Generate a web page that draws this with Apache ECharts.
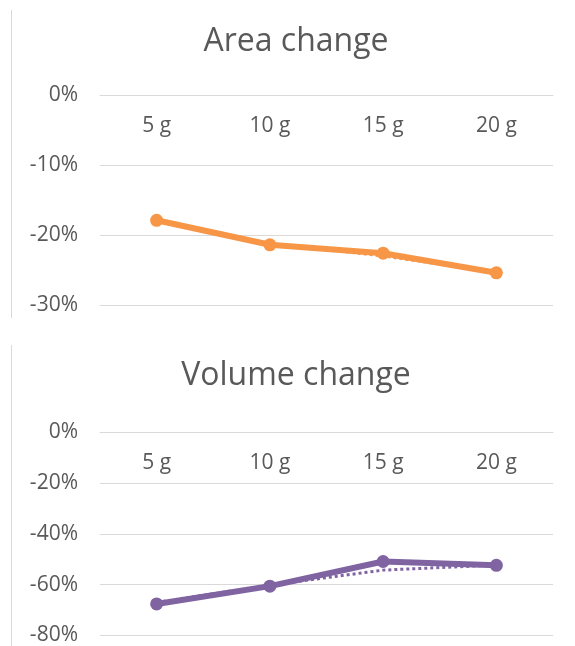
<!DOCTYPE html>
<html>
<head>
<meta charset="utf-8">
<title>Area and volume change</title>
<script src="https://cdn.jsdelivr.net/npm/echarts@6/dist/echarts.min.js"></script>
<style>
  html, body { margin: 0; padding: 0; background: #ffffff; }
  #chart { width: 575px; height: 646px; }
</style>
</head>
<body>
<div id="chart"></div>
<script>
// Sample masses on the category axis
const categories = ['5 g', '10 g', '15 g', '20 g'];

// Percentage change in area, with its dotted trend line
const areaChange = [-17.9, -21.4, -22.6, -25.4];
const areaTrend = [-17.9, -21.2, -23.0, -25.3];

// Percentage change in volume, with its dotted trend line
const volumeChange = [-67.6, -60.6, -50.9, -52.4];
const volumeTrend = [-67.0, -60.2, -54.3, -52.3];

// Value-axis tick marks (percent)
const areaTicks = [0, -10, -20, -30];
const volumeTicks = [0, -20, -40, -60, -80];

const ORANGE = '#F79646';
const PURPLE = '#8064A2';
const TEXT = '#595959';
const GRID = '#d9d9d9';
const FONT = 'Open Sans';

function tickRange(ticks) {
  return {
    min: Math.min(...ticks),
    max: Math.max(...ticks),
    interval: Math.abs(ticks[1] - ticks[0])
  };
}

function valueAxis(gridIndex, ticks) {
  const r = tickRange(ticks);
  return {
    type: 'value',
    gridIndex: gridIndex,
    min: r.min,
    max: r.max,
    interval: r.interval,
    axisLine: { show: false },
    axisTick: { show: false },
    splitLine: { lineStyle: { color: GRID, width: 1 } },
    axisLabel: {
      formatter: '{value}%',
      color: TEXT,
      fontFamily: FONT,
      fontSize: 21,
      margin: 22
    }
  };
}

function categoryAxis(gridIndex) {
  return {
    type: 'category',
    gridIndex: gridIndex,
    data: categories,
    position: 'top',
    boundaryGap: true,
    axisLine: { show: true, lineStyle: { color: GRID, width: 1 } },
    axisTick: { show: false },
    axisLabel: {
      inside: true,
      color: TEXT,
      fontFamily: FONT,
      fontSize: 21,
      margin: 21
    }
  };
}

function trendSeries(idx, data, color) {
  return {
    type: 'line',
    xAxisIndex: idx,
    yAxisIndex: idx,
    data: data,
    symbol: 'none',
    z: 2,
    lineStyle: { color: color, width: 3, type: 'dotted' },
    silent: true
  };
}

function mainSeries(idx, data, color) {
  return {
    type: 'line',
    xAxisIndex: idx,
    yAxisIndex: idx,
    data: data,
    symbol: 'circle',
    symbolSize: 13,
    z: 3,
    itemStyle: { color: color },
    lineStyle: { color: color, width: 6 }
  };
}

const chart = echarts.init(document.getElementById('chart'), null, { renderer: 'canvas' });

chart.setOption({
  animation: false,
  backgroundColor: '#ffffff',
  title: [
    {
      text: 'Area change',
      left: 291,
      top: 21,
      textAlign: 'center',
      textStyle: { color: TEXT, fontFamily: FONT, fontSize: 32, fontWeight: 'normal' }
    },
    {
      text: 'Volume change',
      left: 291,
      top: 355,
      textAlign: 'center',
      textStyle: { color: TEXT, fontFamily: FONT, fontSize: 32, fontWeight: 'normal' }
    }
  ],
  graphic: [
    {
      type: 'line',
      shape: { x1: 11.5, y1: 10, x2: 11.5, y2: 318 },
      style: { stroke: GRID, lineWidth: 1 }
    },
    {
      type: 'line',
      shape: { x1: 11.5, y1: 345, x2: 11.5, y2: 646 },
      style: { stroke: GRID, lineWidth: 1 }
    }
  ],
  grid: [
    { left: 100, right: 22, top: 95, height: 210 },
    { left: 100, right: 22, top: 432, height: 206 }
  ],
  xAxis: [categoryAxis(0), categoryAxis(1)],
  yAxis: [valueAxis(0, areaTicks), valueAxis(1, volumeTicks)],
  series: [
    trendSeries(0, areaTrend, ORANGE),
    mainSeries(0, areaChange, ORANGE),
    trendSeries(1, volumeTrend, PURPLE),
    mainSeries(1, volumeChange, PURPLE)
  ]
});
</script>
</body>
</html>
